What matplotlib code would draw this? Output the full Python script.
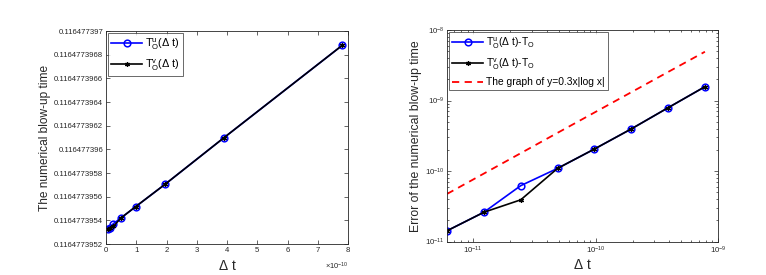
import numpy as np
import matplotlib
matplotlib.use("Agg")
import matplotlib.pyplot as plt
from matplotlib.ticker import FixedLocator, FuncFormatter, LogLocator, NullFormatter

plt.rcParams['font.family'] = ['Liberation Sans', 'DejaVu Sans']
plt.rcParams['mathtext.fontset'] = 'custom'
plt.rcParams['mathtext.rm'] = 'Liberation Sans'
plt.rcParams['mathtext.it'] = 'Liberation Sans'
plt.rcParams['mathtext.sf'] = 'Liberation Sans'

# time steps (halving each time)
dt = [6.1035e-12, 1.2207e-11, 2.4414e-11, 4.8828e-11,
      9.7656e-11, 1.9531e-10, 3.9063e-10, 7.8125e-10]

# numerical blow-up times
T_u = [0.1164773953242, 0.116477395336, 0.116477395372, 0.116477395419,
       0.116477395515, 0.116477395705, 0.116477396100, 0.116477396880]
T_v = [0.1164773953242, 0.116477395336, 0.116477395349, 0.116477395419,
       0.116477395515, 0.116477395705, 0.116477396100, 0.116477396880]

# errors
err_u = [1.42e-11, 2.6e-11, 6.2e-11, 1.09e-10, 2.05e-10, 3.95e-10, 7.9e-10, 1.57e-9]
err_v = [1.42e-11, 2.6e-11, 3.9e-11, 1.09e-10, 2.05e-10, 3.95e-10, 7.9e-10, 1.57e-9]
# reference curve y = 0.3x|log x| at the same dt values
ref_y = [4.73e-11, 9.20e-11, 1.79e-10, 3.48e-10, 6.75e-10, 1.31e-9, 2.54e-9, 4.92e-9]

yticks_left = [0.1164773952, 0.1164773954, 0.1164773956, 0.1164773958, 0.116477396,
               0.1164773962, 0.1164773964, 0.1164773966, 0.1164773968, 0.116477397]
xticks_left = [0, 1, 2, 3, 4, 5, 6, 7, 8]

axcol = '#262626'

fig = plt.figure(figsize=(7.66, 2.75), dpi=100)
ax1 = fig.add_axes([0.1384, 0.1127, 0.316, 0.7745])
ax2 = fig.add_axes([0.5836, 0.1218, 0.3538, 0.769])

def style(ax):
    for s in ax.spines.values():
        s.set_linewidth(0.6)
        s.set_color(axcol)
    ax.tick_params(which='both', direction='in', top=True, right=True,
                   labelsize=5.6, colors=axcol, width=0.5, pad=2)
    ax.tick_params(which='major', length=3)
    ax.tick_params(which='minor', length=1.6)

# left panel
ax1.plot(dt, T_u, color='blue', lw=1.2, marker='o', ms=4.8, mfc='none', mew=1.1,
         label=r'T$_\mathregular{O}^\mathregular{u}$($\Delta$ t)')
ax1.plot(dt, T_v, color='black', lw=1.2, marker=(6, 2, 0), ms=3.5, mew=0.9,
         label=r'T$_\mathregular{O}^\mathregular{v}$($\Delta$ t)')
ax1.set_xlim(0, 8e-10)
ax1.set_ylim(yticks_left[0], yticks_left[-1])
ax1.xaxis.set_major_locator(FixedLocator([x * 1e-10 for x in xticks_left]))
ax1.xaxis.set_major_formatter(FuncFormatter(lambda v, p: f"{v * 1e10:.0f}"))
ax1.yaxis.set_major_locator(FixedLocator(yticks_left))
ax1.yaxis.set_major_formatter(FuncFormatter(lambda v, p: f"{v:.10g}"))
style(ax1)
ax1.set_xlabel(r'$\Delta$ t', fontsize=10, color=axcol, labelpad=4)
ax1.set_ylabel('The numerical blow-up time', fontsize=8.6, color=axcol, labelpad=2)
ax1.text(1.0, -0.105, r'$\times$10$^{-10}$', transform=ax1.transAxes,
         ha='right', va='center', fontsize=5.4, color=axcol)
leg1 = ax1.legend(loc='upper left', fontsize=7.8, frameon=True, fancybox=False,
                  edgecolor=axcol, handlelength=2.8, borderaxespad=0.2,
                  borderpad=0.3, labelspacing=0.5, handletextpad=0.3)
leg1.get_frame().set_linewidth(0.6)

# right panel
ax2.loglog(dt, err_u, color='blue', lw=1.2, marker='o', ms=4.8, mfc='none', mew=1.1,
           label=r'T$_\mathregular{O}^\mathregular{u}$($\Delta$ t)-T$_\mathregular{O}$')
ax2.loglog(dt, err_v, color='black', lw=1.2, marker=(6, 2, 0), ms=3.5, mew=0.9,
           label=r'T$_\mathregular{O}^\mathregular{v}$($\Delta$ t)-T$_\mathregular{O}$')
ax2.loglog(dt, ref_y, color='red', lw=1.3, ls=(0, (4, 3)),
           label='The graph of y=0.3x|log x|')
ax2.set_xlim(6.1035e-12, 1e-9)
ax2.set_ylim(1e-11, 1e-8)
ax2.xaxis.set_major_locator(LogLocator(base=10, numticks=10))
ax2.yaxis.set_major_locator(LogLocator(base=10, numticks=10))
ax2.xaxis.set_minor_locator(LogLocator(base=10, subs=np.arange(2, 10), numticks=20))
ax2.yaxis.set_minor_locator(LogLocator(base=10, subs=np.arange(2, 10), numticks=20))
ax2.xaxis.set_minor_formatter(NullFormatter())
ax2.yaxis.set_minor_formatter(NullFormatter())
style(ax2)
ax2.set_xlabel(r'$\Delta$ t', fontsize=10, color=axcol, labelpad=2)
ax2.set_ylabel('Error of the numerical blow-up time', fontsize=8.8, color=axcol, labelpad=2)
leg2 = ax2.legend(loc='upper left', fontsize=7.4, frameon=True, fancybox=False,
                  edgecolor=axcol, handlelength=3.0, borderaxespad=0.2,
                  borderpad=0.3, labelspacing=0.55, handletextpad=0.3)
leg2.get_frame().set_linewidth(0.6)

fig.savefig('out.png', dpi=100)
